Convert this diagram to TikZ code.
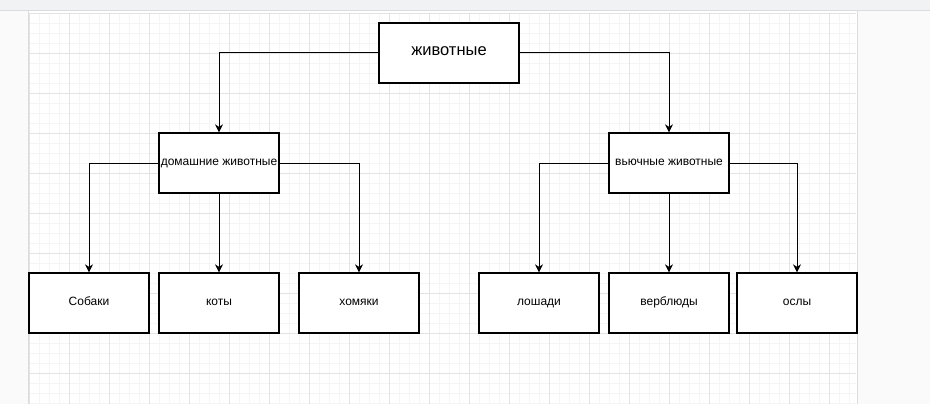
\documentclass[tikz,border=0pt]{standalone}
\usepackage{fontspec}
\setmainfont{Liberation Sans}
\usetikzlibrary{arrows.meta}
\definecolor{barbg}{HTML}{F1F2F4}
\definecolor{barline}{HTML}{DADCE0}
\definecolor{panelbg}{HTML}{FAFAFA}
\definecolor{minorgrid}{HTML}{F5F5F5}
\definecolor{majorgrid}{HTML}{E3E3E3}
\tikzset{
  box/.style={draw=black, line width=1.3pt, fill=white, minimum width=120pt, minimum height=60pt, inner sep=0pt, text height=0.72em, text depth=0.2em, font=\fontsize{12}{14}\selectfont},
  bigbox/.style={box, minimum width=140pt, font=\fontsize{16.5}{18}\selectfont},
  conn/.style={draw=black, line width=1pt, -{Stealth[length=8pt, width=8pt, inset=2.5pt]}},
}
\begin{document}
\begin{tikzpicture}[x=1pt, y=-1pt]
\useasboundingbox (0,0) rectangle (930,404);
% backgrounds
\fill[white] (0,0) rectangle (930,404);
\fill[panelbg] (0,0) rectangle (28,404);
\fill[panelbg] (857,0) rectangle (930,404);
\draw[barline, line width=1pt] (28,11) -- (28,404);
\draw[barline, line width=1pt] (857.5,11) -- (857.5,404);
% grid
\foreach \x in {39,49,...,856} \draw[minorgrid, line width=0.8pt] (\x,13) -- (\x,404);
\foreach \y in {23,33,...,404} \draw[minorgrid, line width=0.8pt] (29,\y) -- (856,\y);
\foreach \x in {29,69,...,856} \draw[majorgrid, line width=0.8pt] (\x,13) -- (\x,404);
\foreach \y in {13,53,...,404} \draw[majorgrid, line width=0.8pt] (29,\y) -- (856,\y);
% top bar
\fill[barbg] (0,0) rectangle (930,10.5);
\draw[barline, line width=1pt] (0,10.5) -- (930,10.5);
% nodes
\node[bigbox] (root) at (449,53) {животные};
\node[box] (dom) at (219,163) {домашние животные};
\node[box] (pack) at (669,163) {вьючные животные};
\node[box] (dogs) at (89,303) {Собаки};
\node[box] (cats) at (219,303) {коты};
\node[box] (ham) at (359,303) {хомяки};
\node[box] (horse) at (539,303) {лошади};
\node[box] (camel) at (669,303) {верблюды};
\node[box] (donkey) at (797,303) {ослы};
% connectors
\draw[conn] (root.west) -| (dom.north);
\draw[conn] (root.east) -| (pack.north);
\draw[conn] (dom.west) -| (dogs.north);
\draw[conn] (dom.south) -- (cats.north);
\draw[conn] (dom.east) -| (ham.north);
\draw[conn] (pack.west) -| (horse.north);
\draw[conn] (pack.south) -- (camel.north);
\draw[conn] (pack.east) -| (donkey.north);
\end{tikzpicture}
\end{document}
